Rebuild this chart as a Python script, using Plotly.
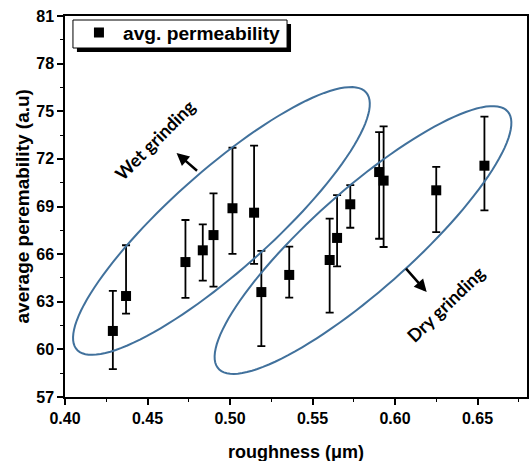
import numpy as np
import plotly.graph_objects as go

# ---- data ----
roughness = [0.429, 0.437, 0.473, 0.4835, 0.490, 0.5015, 0.5146, 0.519,
             0.5359, 0.5604, 0.5649, 0.5729, 0.5904, 0.5931, 0.625, 0.6542]
avg_perm = [61.16, 63.36, 65.50, 66.24, 67.20, 68.89, 68.61, 63.61,
            64.69, 65.63, 67.02, 69.14, 71.17, 70.63, 70.02, 71.57]
err_plus = [2.52, 3.20, 2.65, 1.64, 2.63, 3.81, 4.22, 2.59,
            1.78, 2.60, 2.70, 1.21, 2.52, 3.42, 1.47, 3.09]
err_minus = [2.40, 1.11, 2.26, 1.91, 3.25, 2.88, 3.23, 3.40,
             1.43, 3.32, 1.79, 1.48, 4.20, 4.18, 2.63, 2.81]

x_ticks = [0.40, 0.45, 0.50, 0.55, 0.60, 0.65]
x_tick_labels = ["0.40", "0.45", "0.50", "0.55", "0.60", "0.65"]
y_ticks = [57, 60, 63, 66, 69, 72, 75, 78, 81]

series_name = "avg. permeability"
x_title = "roughness (\u03bcm)"
y_title = "average peremability (a.u)"
wet_label = "Wet grinding"
dry_label = "Dry grinding"

# ---- layout geometry ----
W, H = 530, 461
ML, MR, MT, MB = 65, 1, 16, 64
X_RANGE = [0.40, 0.68]
Y_RANGE = [57, 81]
PW, PH = W - ML - MR, H - MT - MB
PXX = PW / (X_RANGE[1] - X_RANGE[0])
PXY = PH / (Y_RANGE[1] - Y_RANGE[0])

FONT = "Arial, 'Liberation Sans', sans-serif"
LBL_FONT = "Lato, 'Noto Sans', sans-serif"
BLUE = "#41719C"

fig = go.Figure()
fig.add_trace(go.Scatter(
    x=roughness, y=avg_perm, mode="markers", name=series_name,
    marker=dict(symbol="square", size=10, color="black"),
    error_y=dict(type="data", symmetric=False, array=err_plus,
                 arrayminus=err_minus, color="black", thickness=1.8, width=4),
    showlegend=True,
))


def ellipse_path(cx, cy, a_px, b_px, ang_deg, n=120):
    t = np.linspace(0, 2 * np.pi, n)
    th = np.deg2rad(ang_deg)
    u, v = a_px * np.cos(t), b_px * np.sin(t)
    dx = u * np.cos(th) - v * np.sin(th)
    dy = u * np.sin(th) + v * np.cos(th)
    xs = cx + dx / PXX
    ys = cy + dy / PXY
    return "M " + " L ".join(f"{a:.5f},{b:.4f}" for a, b in zip(xs, ys)) + " Z"


shapes = [
    dict(type="path", xref="x", yref="y",
         path=ellipse_path(0.4948, 68.09, 194, 50, 41.5),
         line=dict(color=BLUE, width=2)),
    dict(type="path", xref="x", yref="y",
         path=ellipse_path(0.5806, 66.89, 194, 50, 41.5),
         line=dict(color=BLUE, width=2)),
]


def px2paper_x(px):
    return (px - ML) / PW


def px2paper_y(py):
    return 1 - (py - MT) / PH


# legend frame: shadow then white box with black border
shapes.append(dict(type="rect", xref="paper", yref="paper",
                   x0=px2paper_x(77), x1=px2paper_x(292),
                   y0=px2paper_y(52), y1=px2paper_y(24),
                   fillcolor="black", line=dict(width=0), layer="above"))
shapes.append(dict(type="rect", xref="paper", yref="paper",
                   x0=px2paper_x(73), x1=px2paper_x(288),
                   y0=px2paper_y(48), y1=px2paper_y(20),
                   fillcolor="white", line=dict(color="black", width=1),
                   layer="above"))

annotations = [
    dict(text=f"<b>{wet_label}</b>", x=0.4543, y=73.19, xref="x", yref="y",
         showarrow=False, textangle=-45,
         font=dict(family=LBL_FONT, size=18, color="black")),
    dict(text=f"<b>{dry_label}</b>", x=0.6307, y=62.86, xref="x", yref="y",
         showarrow=False, textangle=-44,
         font=dict(family=LBL_FONT, size=18, color="black")),
    dict(text="", x=0.4676, y=72.37, xref="x", yref="y", ax=22, ay=19,
         showarrow=True, arrowhead=2, arrowsize=1.0, arrowwidth=2.5,
         arrowcolor="black"),
    dict(text="", x=0.6192, y=63.61, xref="x", yref="y", ax=-22, ay=-25,
         showarrow=True, arrowhead=2, arrowsize=1.0, arrowwidth=2.5,
         arrowcolor="black"),
    dict(text=x_title, xref="paper", yref="paper", x=0.5, y=0,
         yshift=-55, showarrow=False, yanchor="middle",
         font=dict(family=FONT, size=18, color="black", weight="bold")),
    dict(text=y_title, xref="paper", yref="paper", x=0, y=0.5,
         xshift=-43, showarrow=False, xanchor="center", textangle=-90,
         font=dict(family=FONT, size=19, color="black", weight="bold")),
]

axis_common = dict(
    showgrid=False, zeroline=False, showline=True, linecolor="black",
    linewidth=1.5, mirror=True, ticks="outside", ticklen=6, tickwidth=1.5,
    tickcolor="black",
    tickfont=dict(family=FONT, size=16, color="black", weight="bold"),
)

fig.update_layout(
    width=W, height=H,
    margin=dict(l=ML, r=MR, t=MT, b=MB),
    paper_bgcolor="white", plot_bgcolor="white",
    shapes=shapes, annotations=annotations,
    showlegend=True,
    legend=dict(x=px2paper_x(75), y=px2paper_y(13.5), xanchor="left",
                yanchor="top", bgcolor="rgba(0,0,0,0)", borderwidth=0,
                itemwidth=38,
                font=dict(family=FONT, size=19.2, color="black", weight="bold")),
    xaxis=dict(range=X_RANGE, tickvals=x_ticks, ticktext=x_tick_labels,
               minor=dict(ticks="outside", ticklen=3, tickwidth=1.2,
                          tickcolor="black", dtick=0.025, tick0=0.4),
               **axis_common),
    yaxis=dict(range=Y_RANGE, tickvals=y_ticks,
               minor=dict(ticks="outside", ticklen=3, tickwidth=1.2,
                          tickcolor="black", dtick=1.5, tick0=57),
               **axis_common),
)

fig.write_html("out.html")
